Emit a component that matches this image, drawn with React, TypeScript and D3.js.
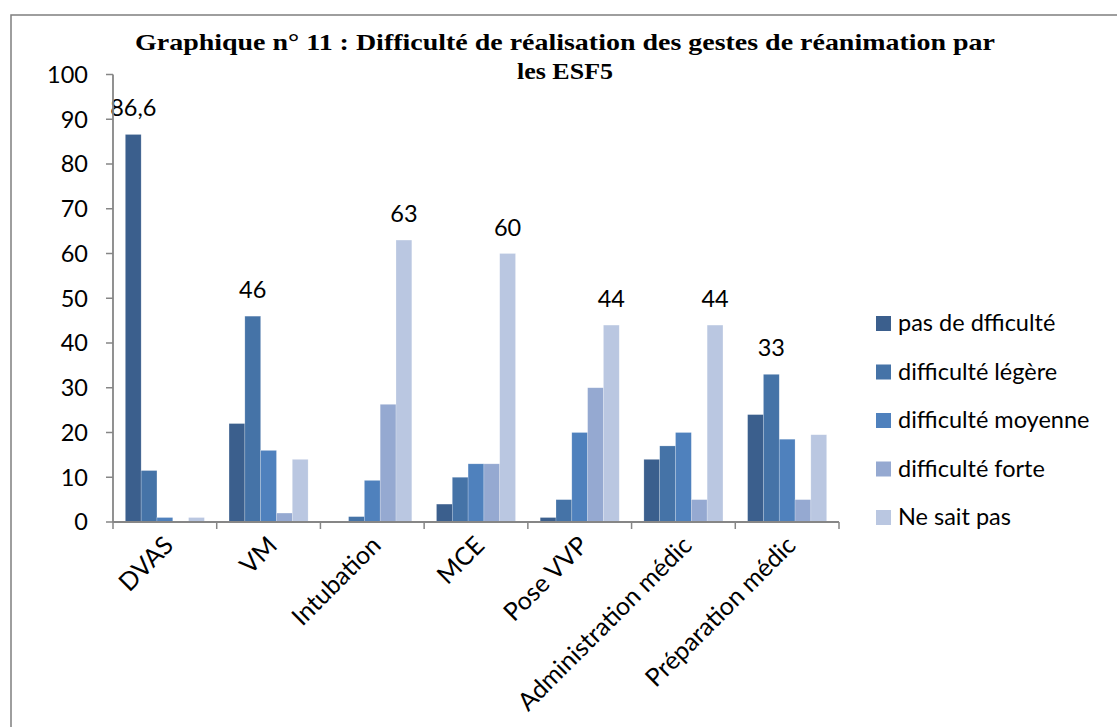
import React from 'react';
import * as d3 from 'd3';

const categories = ['DVAS', 'VM', 'Intubation', 'MCE', 'Pose VVP', 'Administration médic', 'Préparation médic'];
const seriesNames = ['pas de dfficulté', 'difficulté légère', 'difficulté moyenne', 'difficulté forte', 'Ne sait pas'];
const seriesColors = ['#3B5F8D', '#4573A7', '#4F81BD', '#95A9D1', '#BAC7E1'];

// one array per series, in category order
const pasDeDifficulte = [86.6, 22, 0, 4, 1, 14, 24];
const difficulteLegere = [11.5, 46, 1.2, 10, 5, 17, 33];
const difficulteMoyenne = [1, 16, 9.3, 13, 20, 20, 18.5];
const difficulteForte = [0, 2, 26.3, 13, 30, 5, 5];
const neSaitPas = [1, 14, 63, 60, 44, 44, 19.5];
const seriesValues = [pasDeDifficulte, difficulteLegere, difficulteMoyenne, difficulteForte, neSaitPas];

// which series gets a data label in each category
const labelSeries = [0, 1, 4, 4, 4, 4, 1];

const yTicks = [0, 10, 20, 30, 40, 50, 60, 70, 80, 90, 100];

const W = 1117;
const H = 727;
const plot = { left: 113, right: 839, top: 74.5, bottom: 522 };
const font = 'Lato, "Open Sans", sans-serif';
const fs = 23.5;
const axisColor = '#868686';

const App: React.FC = () => {
  const x0 = d3.scaleBand<string>().domain(categories).range([plot.left, plot.right]).padding(0);
  const x1 = d3
    .scaleBand<number>()
    .domain(d3.range(seriesNames.length))
    .range([0, x0.bandwidth()])
    .paddingInner(0)
    .paddingOuter(0.78);
  const y = d3.scaleLinear().domain([0, 100]).range([plot.bottom, plot.top]);

  const boundaries = categories.map((c) => x0(c)!).concat([plot.right]);
  const fmt = (v: number) => String(v).replace('.', ',');

  return (
    <svg width={W} height={H} style={{ position: 'absolute', left: 0, top: 0, background: '#fff' }}>
      {/* cadre */}
      <rect x={11} y={15} width={W} height={H} fill="#fff" stroke="#7f7f7f" strokeWidth={1.5} />

      {/* titre */}
      <text
        x={565}
        y={50}
        textAnchor="middle"
        fontFamily='"Liberation Serif", "Times New Roman", serif'
        fontWeight="bold"
        fontSize={23}
        textLength={860}
        lengthAdjust="spacingAndGlyphs"
      >
        Graphique n° 11 : Difficulté de réalisation des gestes de réanimation par
      </text>
      <text
        x={565}
        y={79}
        textAnchor="middle"
        fontFamily='"Liberation Serif", "Times New Roman", serif'
        fontWeight="bold"
        fontSize={23}
        textLength={96}
        lengthAdjust="spacingAndGlyphs"
      >
        les ESF5
      </text>

      {/* barres */}
      {categories.map((c, ci) => (
        <g key={c} transform={`translate(${x0(c)},0)`}>
          {seriesValues.map((vals, si) => {
            const v = vals[ci];
            if (v <= 0) return null;
            return (
              <rect
                key={si}
                x={x1(si)}
                y={y(v)}
                width={x1.bandwidth()}
                height={y(0) - y(v)}
                fill={seriesColors[si]}
                stroke="rgba(255,255,255,0.35)"
                strokeWidth={0.6}
              />
            );
          })}
          <text
            x={x1(labelSeries[ci])! + x1.bandwidth() / 2}
            y={y(seriesValues[labelSeries[ci]][ci]) - 18}
            textAnchor="middle"
            fontFamily={font}
            fontSize={fs}
            fill="#000"
          >
            {fmt(seriesValues[labelSeries[ci]][ci])}
          </text>
        </g>
      ))}

      {/* axe Y */}
      <line x1={plot.left} x2={plot.left} y1={y(100)} y2={y(0)} stroke={axisColor} strokeWidth={1.8} />
      {yTicks.map((t) => (
        <g key={t}>
          <line x1={plot.left - 7} x2={plot.left} y1={y(t)} y2={y(t)} stroke={axisColor} strokeWidth={1.5} />
          <text x={88} y={y(t)} dy="0.36em" textAnchor="end" fontFamily={font} fontSize={fs} fill="#000">
            {t}
          </text>
        </g>
      ))}

      {/* axe X */}
      <line x1={plot.left} x2={plot.right} y1={y(0)} y2={y(0)} stroke={axisColor} strokeWidth={1.8} />
      {boundaries.map((bx, i) => (
        <line key={i} x1={bx} x2={bx} y1={y(0)} y2={y(0) + 7} stroke={axisColor} strokeWidth={1.5} />
      ))}
      {categories.map((c) => {
        const cx = x0(c)! + x0.bandwidth() / 2 + 10;
        const cy = y(0) + 25;
        return (
          <text
            key={c}
            transform={`translate(${cx},${cy}) rotate(-45)`}
            textAnchor="end"
            fontFamily={font}
            fontSize={25}
            fill="#000"
          >
            {c}
          </text>
        );
      })}

      {/* légende */}
      {seriesNames.map((s, i) => {
        const ly = 323 + i * 48.5;
        return (
          <g key={s}>
            <rect x={876} y={ly - 7} width={15} height={15} fill={seriesColors[i]} />
            <text x={898} y={ly} dy="0.36em" fontFamily={font} fontSize={fs} fill="#000">
              {s}
            </text>
          </g>
        );
      })}
    </svg>
  );
};

export default App;
